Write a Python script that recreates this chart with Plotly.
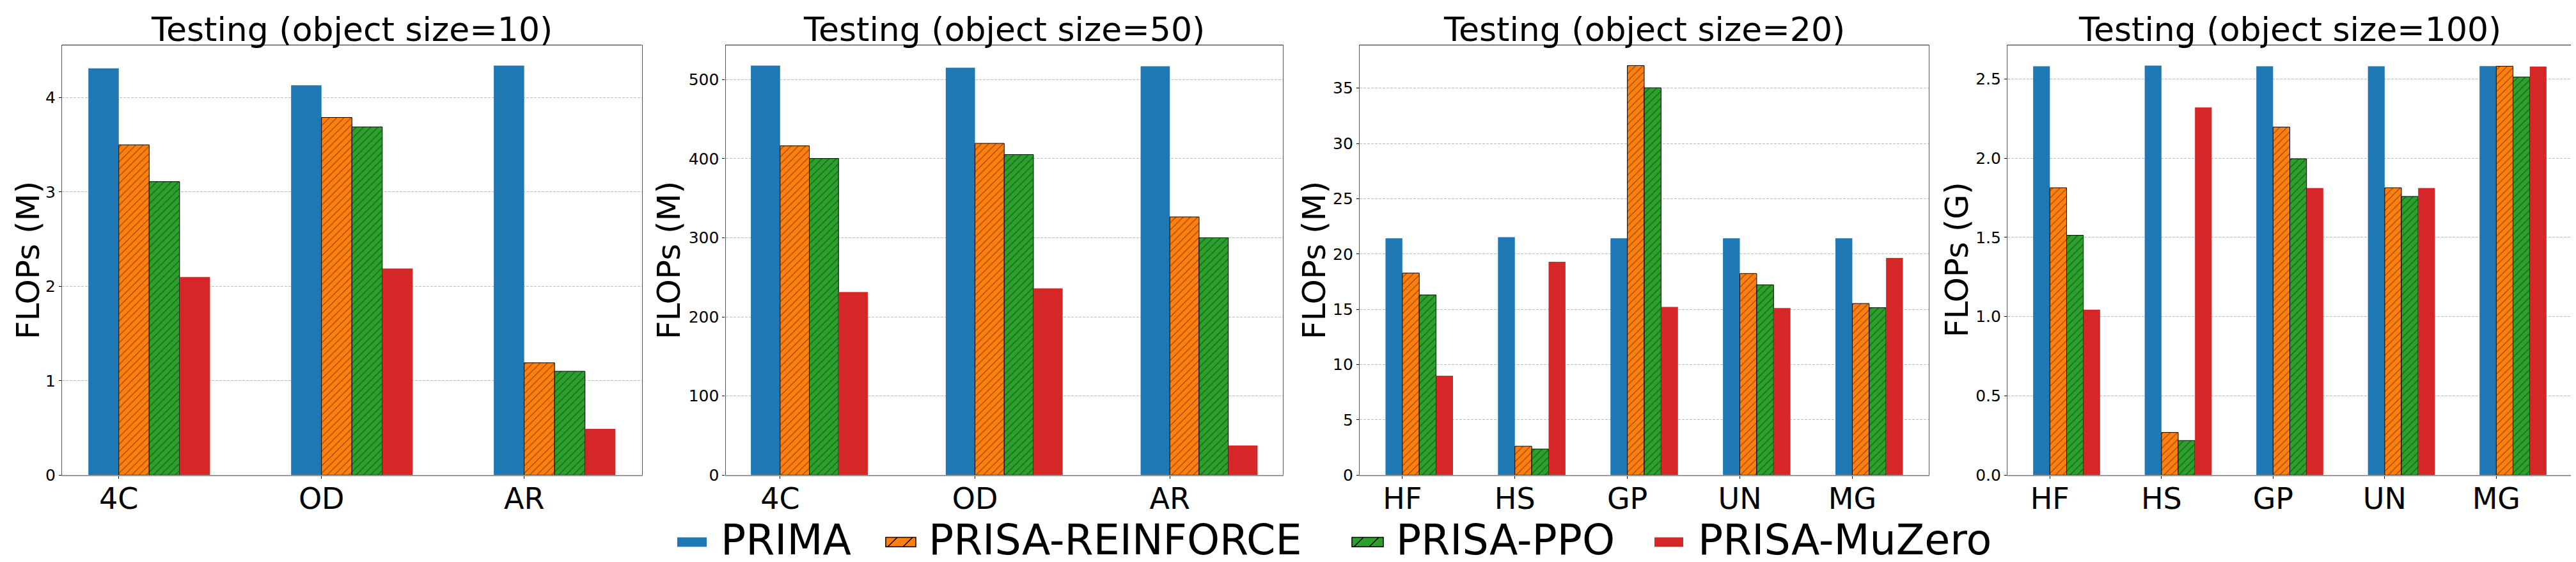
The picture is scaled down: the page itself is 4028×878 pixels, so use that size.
import plotly.graph_objects as go

W, H = 4028, 878

methods = ["PRIMA", "PRISA-REINFORCE", "PRISA-PPO", "PRISA-MuZero"]
colors = ["#1f77b4", "#ff7f0e", "#2ca02c", "#d62728"]
hatched = [False, True, True, False]

tasks_a = ["4C", "OD", "AR"]
tasks_b = ["HF", "HS", "GP", "UN", "MG"]

# rows follow `methods`, columns follow the task list of the panel
flops_size10 = [
    [4.31, 4.13, 4.34],
    [3.50, 3.79, 1.19],
    [3.11, 3.69, 1.10],
    [2.10, 2.19, 0.49],
]
flops_size50 = [
    [517.8, 515.1, 516.9],
    [416.3, 419.4, 326.4],
    [400.3, 405.2, 300.1],
    [231.5, 236.0, 37.4],
]
flops_size20 = [
    [21.42, 21.52, 21.42, 21.42, 21.42],
    [18.27, 2.61, 37.04, 18.23, 15.52],
    [16.29, 2.36, 35.03, 17.21, 15.14],
    [8.99, 19.29, 15.21, 15.11, 19.64],
]
flops_size100 = [
    [2.580, 2.584, 2.580, 2.580, 2.581],
    [1.813, 0.269, 2.196, 1.813, 2.580],
    [1.513, 0.218, 1.996, 1.758, 2.512],
    [1.044, 2.320, 1.811, 1.811, 2.578],
]

panels = [
    ("Testing (object size=10)", "FLOPs (M)", tasks_a, flops_size10, 1, ",d"),
    ("Testing (object size=50)", "FLOPs (M)", tasks_a, flops_size50, 100, ",d"),
    ("Testing (object size=20)", "FLOPs (M)", tasks_b, flops_size20, 5, ",d"),
    ("Testing (object size=100)", "FLOPs (G)", tasks_b, flops_size100, 0.5, ".1f"),
]

FONT = "DejaVu Sans"
bar_w = 0.15

# plot areas in pixels (left, right), shared top/bottom
px_domains = [(89, 995.5), (1126.5, 1998), (2118, 3008), (3131, 4014)]
top_px, bottom_px = 63.5, 747


def px(x):
    return x / W


def py(y):
    return 1 - y / H


fig = go.Figure()
annotations = []
shapes = []

for k, (title, ytitle, tasks, data, dtick, fmt) in enumerate(panels):
    sfx = "" if k == 0 else str(k + 1)
    xa, ya = "x" + sfx, "y" + sfx
    n = len(tasks)
    for j, name in enumerate(methods):
        c = colors[j]
        fig.add_trace(go.Bar(
            x=list(range(n)), y=data[j], name=name,
            width=bar_w, offset=(j - 1) * bar_w,
            xaxis=xa, yaxis=ya, showlegend=False,
            marker=dict(
                color=c,
                line=dict(color="black" if hatched[j] else c, width=1 if hatched[j] else 0),
                pattern=dict(shape="/" if hatched[j] else "", fgcolor="black",
                             bgcolor=c, size=8, solidity=0.14),
            ),
        ))
    span = (n - 1) + 4 * bar_w
    pad = 0.05 * span
    ymax = 1.05 * max(max(r) for r in data)
    l, r = px_domains[k]
    fig.update_layout({
        "xaxis" + sfx: dict(
            domain=[px(l), px(r)], anchor=ya,
            range=[-bar_w - pad, n - 1 + 3 * bar_w + pad],
            tickvals=list(range(n)), ticktext=tasks,
            tickfont=dict(size=46, color="black", family=FONT),
            ticks="outside", ticklen=4, tickcolor="black",
            ticklabelstandoff=-8,
            showline=True, linecolor="#9a9a9a", linewidth=2,
            showgrid=False, zeroline=False,
        ),
        "yaxis" + sfx: dict(
            domain=[py(bottom_px), py(top_px)], anchor=xa,
            range=[0, ymax], dtick=dtick, tick0=0, tickformat=fmt,
            tickfont=dict(size=25, color="black", family=FONT),
            ticks="outside", ticklen=4, tickcolor="black",
            showline=True, linecolor="#555555", linewidth=1.2, mirror=True,
            showgrid=True, gridcolor="#b4c0c6", gridwidth=1, griddash="4px,2px",
            zeroline=False,
        ),
    })
    shapes.append(dict(type="line", xref="paper", yref="paper",
                       x0=px(l), x1=px(r), y0=py(top_px), y1=py(top_px),
                       line=dict(color="#444444", width=1.2)))
    annotations.append(dict(
        text=title, xref="paper", yref="paper", x=px((l + r) / 2), y=py(71),
        xanchor="center", yanchor="bottom", showarrow=False,
        font=dict(size=52, color="black", family=FONT),
    ))
    annotations.append(dict(
        text=ytitle, xref="paper", yref="paper",
        x=px([36, 1038, 2047, 3052][k]), y=py((top_px + bottom_px) / 2),
        xanchor="center", yanchor="middle", textangle=-90, showarrow=False,
        font=dict(size=50, color="black", family=FONT),
    ))

# legend drawn by hand below the panels
swatch_px = [(1051, 1097), (1377, 1424), (2106, 2155), (2579, 2624)]
label_px = [1117, 1442, 2173, 2645]
sw_top, sw_bot = 846, 861
for j, name in enumerate(methods):
    x0, x1 = swatch_px[j]
    shapes.append(dict(type="rect", xref="paper", yref="paper",
                       x0=px(x0), x1=px(x1), y0=py(sw_bot), y1=py(sw_top),
                       fillcolor=colors[j],
                       line=dict(color="black" if hatched[j] else colors[j],
                                 width=1.5 if hatched[j] else 0)))
    if hatched[j]:
        h = sw_bot - sw_top
        path = ""
        for a in (3, 27):
            path += "M%f,%f L%f,%f " % (px(x0 + a), py(sw_bot), px(x0 + a + h), py(sw_top))
        shapes.append(dict(type="path", xref="paper", yref="paper", path=path,
                           line=dict(color="black", width=1.5)))
    annotations.append(dict(
        text=name, xref="paper", yref="paper", x=px(label_px[j]), y=py(850),
        xanchor="left", yanchor="middle", showarrow=False,
        font=dict(size=65, color="black", family=FONT),
    ))

fig.update_layout(
    width=W, height=H,
    margin=dict(l=0, r=0, t=0, b=0),
    paper_bgcolor="white", plot_bgcolor="white",
    barmode="overlay",
    font=dict(family=FONT, color="black"),
    annotations=annotations, shapes=shapes,
)

fig.write_html("out.html")
